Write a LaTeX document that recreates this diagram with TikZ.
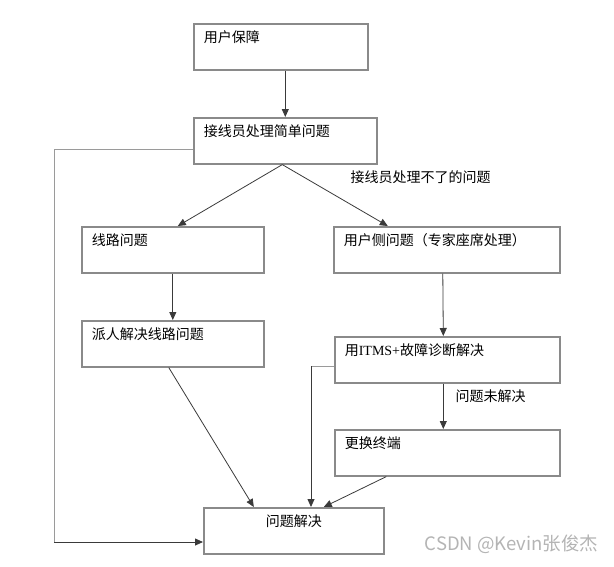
\documentclass[tikz,border=0pt]{standalone}
\usepackage{fontspec}
\setmainfont{Liberation Serif}
\newfontfamily\cjk{Noto Sans CJK SC}
\newfontfamily\latin{Liberation Serif}
\usepackage{tikz}
\usetikzlibrary{arrows.meta}
\definecolor{boxgray}{HTML}{8A8A8A}
\definecolor{linegray}{HTML}{3A3A3A}
\definecolor{loopgray}{HTML}{9A9A9A}
\definecolor{wmgray}{HTML}{B4B4B4}

\begin{document}
\begin{tikzpicture}[x=1pt, y=-1pt,
        box/.style = {draw=boxgray, line width=1.6pt, anchor=north west, align=left, inner xsep=10pt, inner ysep=7pt, text height=12pt, text depth=20pt, font=\cjk\fontsize{14}{16}\selectfont},
        note/.style = {anchor=west, font=\cjk\fontsize{14}{16}\selectfont},
        arr/.style = {draw=linegray, line width=0.8pt, -{Triangle[length=8pt,width=7pt]}},
        feed/.style = {draw=loopgray, line width=0.9pt}]
        \useasboundingbox (0,0) rectangle (614,566);
        \node[box, text width=154pt] (user) at (193,23) {用户保障};
        \node[box, text width=163pt] (simple) at (193,117) {接线员处理简单问题};
        \node[box, text width=162pt] (line) at (81,226) {线路问题};
        \node[box, text width=206pt] (userside) at (333,226) {用户侧问题（专家座席处理）};
        \node[box, text width=162pt] (fix) at (81,320) {派人解决线路问题};
        \node[box, text width=205pt] (itms) at (334,336) {用{\latin ITMS+}故障诊断解决};
        \node[box, text width=205pt] (term) at (334,429) {更换终端};
        \node[box, text width=160pt, align=center] (solved) at (203,507) {问题解决};
        \node[note] (unable) at (347,177) {接线员处理不了的问题};
        \node[note] (unsolved) at (452,396) {问题未解决};
        \node[anchor=east, text=wmgray, font=\cjk\fontsize{18.5}{21}\selectfont] (mark) at (602,544) {CSDN @Kevin张俊杰};
        \coordinate (loop) at (54,542);
        \coordinate (turn) at (311,366);
        \draw[arr] (simple.north |- user.south) -- (simple.north);
        \draw[arr] ([xshift=-3pt]simple.south) -- ([xshift=5pt]line.north);
        \draw[arr] ([xshift=-3pt]simple.south) -- ([xshift=-59pt]userside.north);
        \draw[arr] (line.south) -- (fix.north);
        \draw[arr] ([xshift=-4pt]userside.south) -- ([xshift=-4pt]itms.north);
        \draw[arr] ([xshift=-4pt]itms.south) -- ([xshift=-4pt]term.north);
        \draw[arr] ([xshift=-4pt]fix.south) -- ([xshift=-40pt]solved.north);
        \draw[arr] ([xshift=-61pt]term.south) -- ([xshift=30pt]solved.north);
        \draw[feed] (itms.west |- turn) -- (turn);
        \draw[arr] (turn) -- (turn |- solved.north);
        \draw[feed] ([yshift=-9pt]simple.west) -| (loop);
        \draw[arr] (loop) -- (loop -| solved.west);
\end{tikzpicture}
\end{document}
